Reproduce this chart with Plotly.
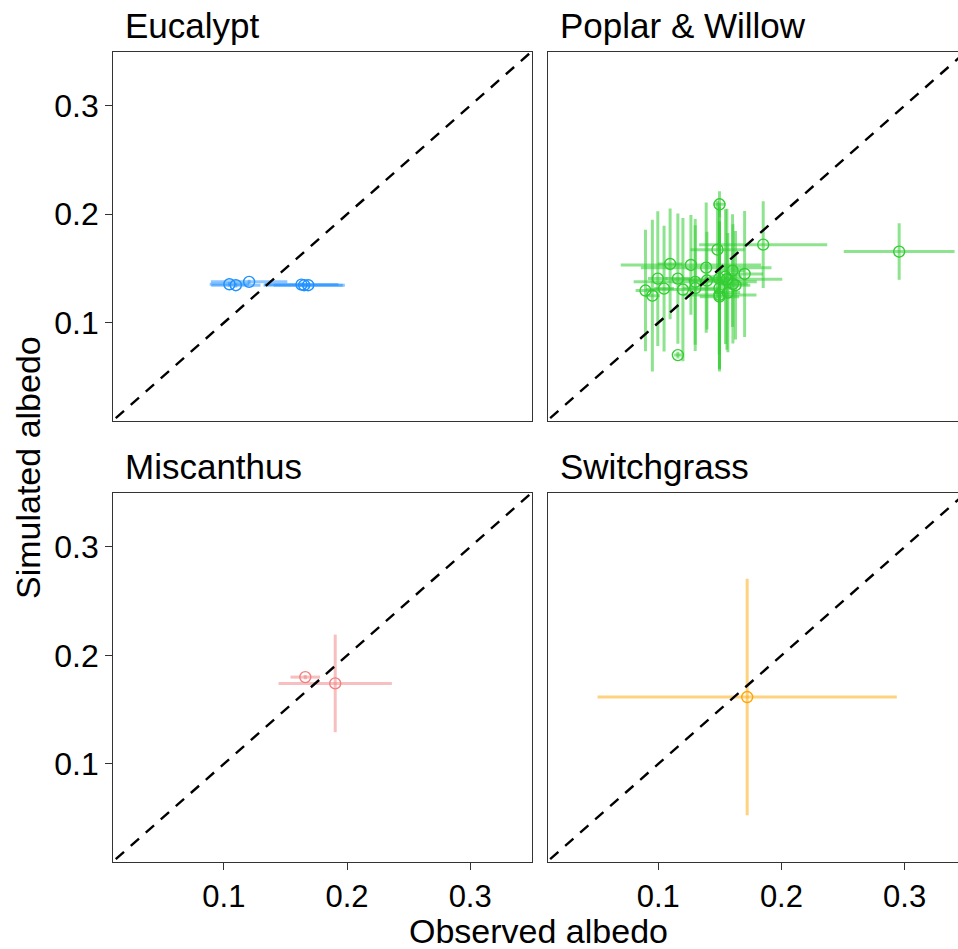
import plotly.graph_objects as go

# ---------------- data ----------------
facets = ["Eucalypt", "Poplar & Willow", "Miscanthus", "Switchgrass"]

euc_obs = [0.1045, 0.1097, 0.1205, 0.1630, 0.1652, 0.1685]
euc_sim = [0.1355, 0.1346, 0.1377, 0.1352, 0.1346, 0.1346]
euc_obs_err = [0.016, 0.020, 0.031, 0.030, 0.033, 0.028]
euc_sim_err = [0.002, 0.002, 0.002, 0.002, 0.002, 0.002]

pop_obs = [0.1497, 0.1481, 0.1852, 0.2956, 0.1096, 0.1265, 0.1389, 0.1603, 0.1701, 0.0996,
           0.1159, 0.1300, 0.1395, 0.1495, 0.1546, 0.1557, 0.1606, 0.1627, 0.0896, 0.0952,
           0.1047, 0.1200, 0.1300, 0.1497, 0.1565, 0.1497, 0.1497, 0.1159]
pop_sim = [0.2092, 0.1674, 0.1720, 0.1656, 0.1542, 0.1533, 0.1508, 0.1481, 0.1450, 0.1407,
           0.1407, 0.1377, 0.1389, 0.1407, 0.1425, 0.1401, 0.1358, 0.1346, 0.1297, 0.1250,
           0.1315, 0.1306, 0.1319, 0.1319, 0.1278, 0.1257, 0.1241, 0.0702]
pop_obs_err = [0.005, 0.022, 0.052, 0.045, 0.010, 0.057, 0.053, 0.010, 0.015, 0.008,
               0.010, 0.050, 0.015, 0.012, 0.013, 0.045, 0.012, 0.012, 0.008, 0.006,
               0.008, 0.030, 0.010, 0.010, 0.010, 0.030, 0.016, 0.003]
pop_sim_err = [0.012, 0.045, 0.040, 0.026, 0.051, 0.046, 0.060, 0.052, 0.058, 0.062,
               0.060, 0.058, 0.045, 0.070, 0.062, 0.065, 0.055, 0.050, 0.056, 0.070,
               0.058, 0.066, 0.058, 0.075, 0.055, 0.068, 0.069, 0.003]

mis_obs = [0.1661, 0.1904]
mis_sim = [0.1800, 0.1742]
mis_obs_err = [0.012, 0.046]
mis_sim_err = [0.002, 0.045]

swi_obs = [0.1722]
swi_sim = [0.1616]
swi_obs_err = [0.1215]
swi_sim_err = [0.109]

tick_vals = [0.1, 0.2, 0.3]
tick_text = ["0.1", "0.2", "0.3"]

x_title = "Observed albedo"
y_title = "Simulated albedo"

# ---------------- styling ----------------
W, H = 958, 949
FONT = "Liberation Sans, Arial, sans-serif"
XR = [0.0102, 0.3502]
YR = [0.0095, 0.3495]

# panel pixel boxes (left, right, top, bottom)
px_cols = [(113.3, 532.0), (547.7, 958.0)]
px_rows = [(52.0, 421.0), (493.3, 862.0)]

colors = ["#1E90FF", "#32CD32", "#F08080", "#FFA500"]
bar_colors = ["rgba(30,144,255,0.5)", "rgba(50,205,50,0.55)",
              "rgba(240,128,128,0.5)", "rgba(255,165,0,0.5)"]

series = [
    (euc_obs, euc_sim, euc_obs_err, euc_sim_err),
    (pop_obs, pop_sim, pop_obs_err, pop_sim_err),
    (mis_obs, mis_sim, mis_obs_err, mis_sim_err),
    (swi_obs, swi_sim, swi_obs_err, swi_sim_err),
]

fig = go.Figure()
layout = dict(width=W, height=H, margin=dict(l=0, r=0, t=0, b=0),
              paper_bgcolor="white", plot_bgcolor="white", showlegend=False,
              annotations=[])

for i, name in enumerate(facets):
    r, c = divmod(i, 2)
    idx = "" if i == 0 else str(i + 1)
    xa, ya = "x" + idx, "y" + idx
    left, right = px_cols[c]
    top, bottom = px_rows[r]
    # right column is cropped by the picture edge: same scale, shorter range
    scale = (px_cols[0][1] - px_cols[0][0]) / (XR[1] - XR[0])
    xr = [XR[0], XR[0] + (right - left) / scale]
    xdom = [left / W, min(right / W, 1.0)]
    ydom = [1 - bottom / H, 1 - top / H]
    show_x = (r == 1)
    show_y = (c == 0)
    layout["xaxis" + idx] = dict(
        domain=xdom, anchor=ya, range=xr, showgrid=False, zeroline=False,
        showline=True, linecolor="#333333", linewidth=1.2, mirror=True,
        ticks="outside" if show_x else "", ticklen=7, tickwidth=1.2, tickcolor="#333333",
        tickvals=tick_vals, ticktext=tick_text, showticklabels=show_x,
        tickfont=dict(family=FONT, size=31, color="black"))
    layout["yaxis" + idx] = dict(
        domain=ydom, anchor=xa, range=YR, showgrid=False, zeroline=False,
        showline=True, linecolor="#333333", linewidth=1.2, mirror=True,
        ticks="outside" if show_y else "", ticklen=7, tickwidth=1.2, tickcolor="#333333",
        tickvals=tick_vals, ticktext=tick_text, showticklabels=show_y,
        tickfont=dict(family=FONT, size=32, color="black"))

    ox, sy, ex, ey = series[i]
    fig.add_trace(go.Scatter(
        x=ox, y=sy, xaxis=xa, yaxis=ya, mode="markers",
        marker=dict(symbol="circle-open", size=11, color=colors[i], line=dict(width=1.4)),
        error_x=dict(type="data", array=ex, symmetric=True, color=bar_colors[i],
                     thickness=3, width=0),
        error_y=dict(type="data", array=ey, symmetric=True, color=bar_colors[i],
                     thickness=3, width=0),
        hoverinfo="skip"))
    fig.add_trace(go.Scatter(
        x=[0, 0.5], y=[0, 0.5], xaxis=xa, yaxis=ya, mode="lines",
        line=dict(color="black", width=2.4, dash="11px,9px"), hoverinfo="skip"))

    layout["annotations"].append(dict(
        text=name, xref="paper", yref="paper", x=(left + 10) / W, y=1 - (top - 27) / H,
        xanchor="left", yanchor="middle", showarrow=False,
        font=dict(family=FONT, size=35, color="black")))

layout["annotations"].append(dict(
    text=x_title, xref="paper", yref="paper", x=538 / W, y=1 - 931 / H,
    xanchor="center", yanchor="middle", showarrow=False,
    font=dict(family=FONT, size=34, color="black")))
layout["annotations"].append(dict(
    text=y_title, xref="paper", yref="paper", x=28 / W, y=1 - 468 / H,
    xanchor="center", yanchor="middle", showarrow=False, textangle=-90,
    font=dict(family=FONT, size=34, color="black")))

fig.update_layout(**layout)
fig.write_html("out.html")
